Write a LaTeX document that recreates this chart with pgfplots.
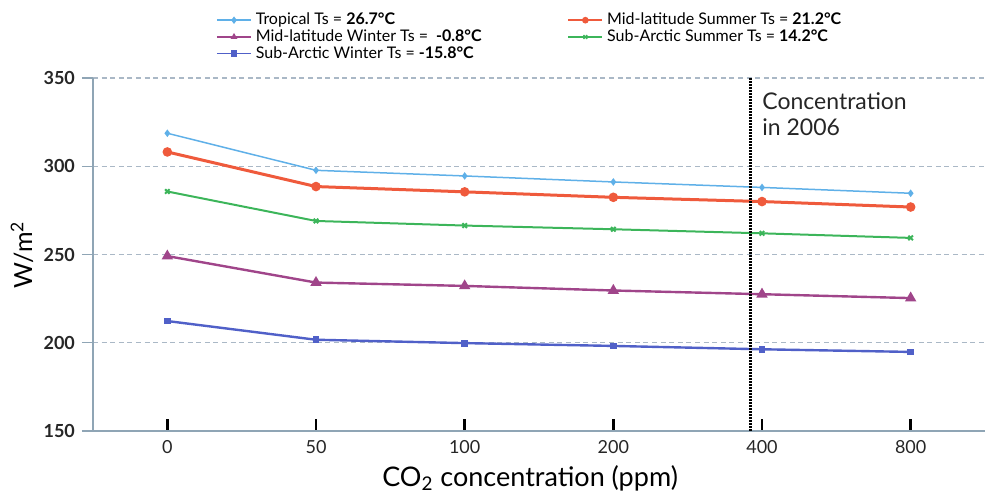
\documentclass[border=0pt]{standalone}
\usepackage{pgfplots}
\pgfplotsset{compat=1.18}
\usepackage{fontspec}
\setmainfont{Lato}

\definecolor{tropblue}{HTML}{5FB0E8}
\definecolor{msred}{HTML}{EF5A3C}
\definecolor{sagreen}{HTML}{3CB55A}
\definecolor{mwpurple}{HTML}{A0458A}
\definecolor{swblue}{HTML}{5060C8}
\definecolor{axisgray}{HTML}{8FA5B5}
\definecolor{gridgray}{HTML}{AAB8C6}

\begin{document}
\begin{tikzpicture}
\begin{axis}[
    name=main,
    at={(0,0)}, anchor=south west,
    scale only axis,
    width=446pt, height=176.5pt,
    xmin=-0.5, xmax=5.5,
    ymin=150, ymax=350,
    ytick={150,200,250,300,350},
    xtick={0,1,2,3,4,5},
    xticklabels={0,50,100,200,400,800},
    axis x line=bottom, axis y line=left,
    axis line style={-, axisgray, line width=0.6pt},
    tick align=outside,
    major tick length=5.5pt,
    xtick style={black, line width=1.4pt, yshift=6pt},
    ytick style={axisgray, line width=0.6pt},
    ymajorgrids,
    grid style={gridgray, line width=0.6pt, dash pattern=on 2.5pt off 1.8pt},
    /pgf/number format/assume math mode=true,
    yticklabel style={font=\fontsize{9}{10}\selectfont\bfseries, text=black!85},
    xticklabel style={font=\fontsize{9}{10}\selectfont, text=black!85, yshift=4.5pt},
    ylabel={W/m\textsuperscript{2}},
    ylabel style={at={(axis description cs:-0.0796,0.5)}, anchor=center, font=\fontsize{12.5}{14}\selectfont},
    xlabel={CO\textsubscript{2} concentration (ppm)},
    xlabel style={at={(axis description cs:0.49,-0.133)}, anchor=center, font=\fontsize{13.5}{15}\selectfont},
    legend columns=2,
    legend cell align=left,
    legend style={
        at={(axis description cs:0.131,1.2085)}, anchor=north west,
        draw=none, fill=none,
        font=\fontsize{8}{9}\selectfont,
        row sep=-3pt,
        /tikz/every even column/.append style={column sep=41pt},
    },
    legend image post style={mark size=1.3pt, line width=0.7pt},
]
\addplot[tropblue, line width=0.75pt, mark=diamond*, mark size=1.3pt]
    coordinates {(0,318.7) (1,297.7) (2,294.5) (3,291.1) (4,288.0) (5,284.7)};
\addlegendentry{Tropical Ts = \textbf{26.7°C}}
\addplot[msred, line width=1.5pt, mark=*, mark size=1.6pt]
    coordinates {(0,308.1) (1,288.5) (2,285.5) (3,282.4) (4,280.0) (5,276.9)};
\addlegendentry{Mid-latitude Summer Ts = \textbf{21.2°C}}
\addplot[mwpurple, line width=1.2pt, mark=triangle*, mark size=2.1pt]
    coordinates {(0,249.1) (1,234.1) (2,232.2) (3,229.6) (4,227.5) (5,225.3)};
\addlegendentry{Mid-latitude Winter Ts = \textbf{ -0.8°C}}
\addplot[sagreen, line width=1pt, mark=x, mark size=1.6pt]
    coordinates {(0,285.7) (1,269.0) (2,266.4) (3,264.3) (4,262.0) (5,259.4)};
\addlegendentry{Sub-Arctic Summer Ts = \textbf{14.2°C}}
\addplot[swblue, line width=1.2pt, mark=square*, mark size=1.1pt]
    coordinates {(0,212.3) (1,201.7) (2,199.8) (3,198.2) (4,196.3) (5,194.8)};
\addlegendentry{Sub-Arctic Winter Ts = \textbf{-15.8°C}}

\addplot[black, line width=1.5pt, dash pattern=on 1pt off 0.5pt, forget plot]
    coordinates {(3.92,150) (3.92,350)};
\node[anchor=north west, align=left, inner sep=0pt, font=\fontsize{11.5}{13}\selectfont, text=black!85]
    at (axis cs:4.0,342) {Concentration\\in 2006};
\end{axis}
\pgfresetboundingbox
\path (-46.5pt,-31pt) rectangle (446pt,215.5pt);
\end{tikzpicture}
\end{document}
